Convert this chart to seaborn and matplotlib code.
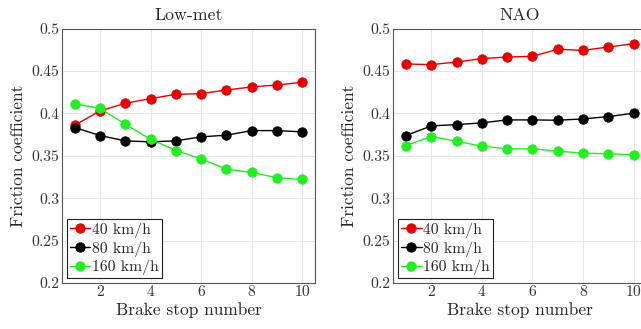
import numpy as np
import pandas as pd
import matplotlib
matplotlib.use("Agg")
import matplotlib.pyplot as plt
import seaborn as sns

stops = [1, 2, 3, 4, 5, 6, 7, 8, 9, 10]
speeds = ["40 km/h", "80 km/h", "160 km/h"]

lowmet_40 = [0.386, 0.403, 0.412, 0.4175, 0.4226, 0.4234, 0.4277, 0.4313, 0.4336, 0.4368]
lowmet_80 = [0.3834, 0.374, 0.3677, 0.3665, 0.3677, 0.3724, 0.3744, 0.3798, 0.3798, 0.3783]
lowmet_160 = [0.4113, 0.4062, 0.3873, 0.3696, 0.3563, 0.3465, 0.3343, 0.3304, 0.3241, 0.3221]

nao_40 = [0.4584, 0.4576, 0.4607, 0.4647, 0.4666, 0.4674, 0.4757, 0.4745, 0.4784, 0.4823]
nao_80 = [0.374, 0.3853, 0.3869, 0.3889, 0.3924, 0.3924, 0.392, 0.3936, 0.3963, 0.4003]
nao_160 = [0.3622, 0.3728, 0.3673, 0.3614, 0.3583, 0.3583, 0.3555, 0.3532, 0.3524, 0.3512]

titles = ["Low-met", "NAO"]
yticks = [0.2, 0.25, 0.3, 0.35, 0.4, 0.45, 0.5]
ytick_labels = ["0.2", "0.25", "0.3", "0.35", "0.4", "0.45", "0.5"]
xticks = [2, 4, 6, 8, 10]

sns.set_style("whitegrid")
plt.rcParams["font.family"] = ["cmr10", "DejaVu Serif"]
plt.rcParams["axes.formatter.use_mathtext"] = True

colors = {"40 km/h": "#e80000", "80 km/h": "#000000", "160 km/h": "#22ee22"}

def make_df(a, b, c):
    rows = []
    for name, vals in zip(speeds, [a, b, c]):
        for s, v in zip(stops, vals):
            rows.append({"stop": s, "mu": v, "speed": name})
    return pd.DataFrame(rows)

fig = plt.figure(figsize=(6.41, 3.29), dpi=100)
w = 253 / 641
h = 254.3 / 329
b = 46 / 329
ax1 = fig.add_axes([62 / 641, b, w, h])
ax2 = fig.add_axes([393.3 / 641, b, w, h])

for ax, title, data in zip([ax1, ax2], titles,
                           [(lowmet_40, lowmet_80, lowmet_160), (nao_40, nao_80, nao_160)]):
    df = make_df(*data)
    sns.lineplot(data=df, x="stop", y="mu", hue="speed", hue_order=speeds,
                 palette=colors, marker="o", markersize=6.8, linewidth=1.0,
                 markeredgewidth=0.6, ax=ax)
    for ln in ax.lines:
        ln.set_markeredgecolor(ln.get_color())
    ax.set_xlim(0.5, 10.5)
    ax.set_ylim(0.2, 0.5)
    ax.set_xticks(xticks)
    ax.set_xticklabels([str(t) for t in xticks])
    ax.set_yticks(yticks)
    ax.set_yticklabels(ytick_labels)
    ax.set_title(title, fontsize=12.8, pad=6)
    ax.set_xlabel("Brake stop number", fontsize=12.5, labelpad=2)
    ax.set_ylabel("Friction coefficient", fontsize=12.5, labelpad=4)
    ax.tick_params(axis="both", labelsize=11.3, colors="#333333", pad=2, length=0)
    ax.grid(True, color="#e6e6e6", linewidth=0.7)
    for sp in ax.spines.values():
        sp.set_color("#555555")
        sp.set_linewidth(0.8)
    leg = ax.legend(loc="lower left", fontsize=11.3, frameon=True, fancybox=False,
                    edgecolor="#222222", framealpha=1, handlelength=1.3,
                    handletextpad=0.1, borderpad=0.2, labelspacing=0.2,
                    borderaxespad=0.3)
    leg.get_frame().set_linewidth(0.8)

fig.savefig("out.png", dpi=100)
